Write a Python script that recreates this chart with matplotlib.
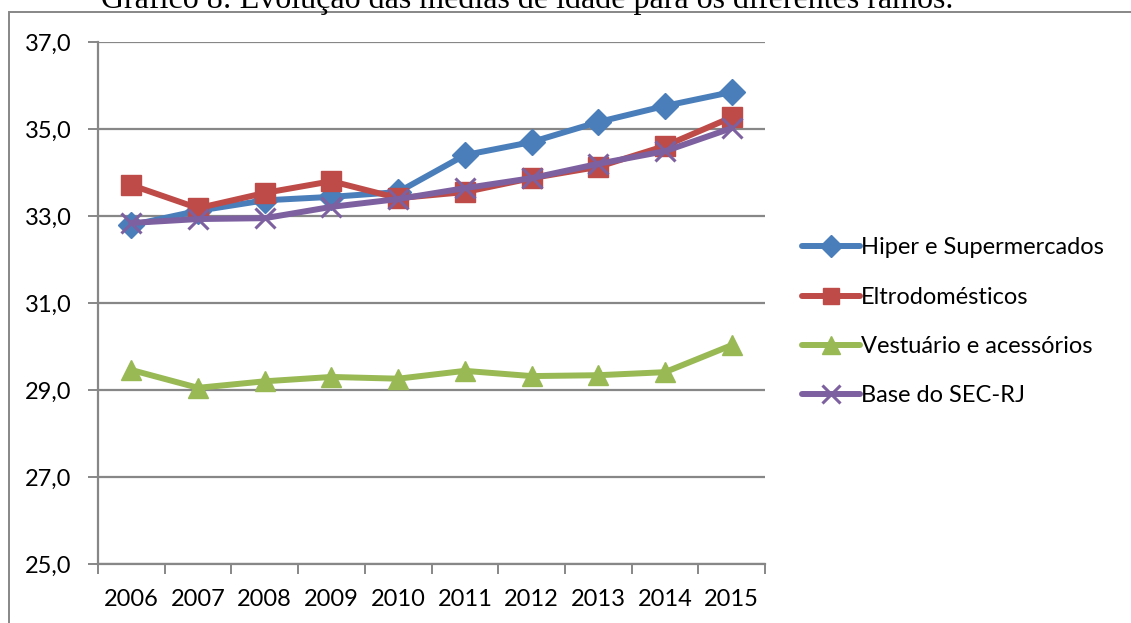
import matplotlib
matplotlib.use('Agg')
import matplotlib.pyplot as plt
from matplotlib.patches import Rectangle

# mean age by retail branch, 2006-2015
years = ['2006', '2007', '2008', '2009', '2010', '2011', '2012', '2013', '2014', '2015']
hiper = [32.79, 33.12, 33.36, 33.44, 33.55, 34.40, 34.70, 35.16, 35.53, 35.85]
eltro = [33.71, 33.18, 33.53, 33.80, 33.41, 33.55, 33.87, 34.13, 34.61, 35.27]
vestuario = [29.46, 29.05, 29.20, 29.30, 29.26, 29.44, 29.32, 29.34, 29.41, 30.03]
base = [32.84, 32.93, 32.95, 33.21, 33.39, 33.64, 33.87, 34.20, 34.49, 35.02]

series = [
    ('Hiper e Supermercados', hiper, '#4a7ebb', 'D', 13),
    ('Eltrodomésticos', eltro, '#be4b48', 's', 14),
    ('Vestuário e acessórios', vestuario, '#98b954', '^', 15),
    ('Base do SEC-RJ', base, '#7d60a0', 'x', 15),
]

plt.rcParams['font.family'] = ['Lato', 'DejaVu Sans']
FS = 17

fig = plt.figure(figsize=(11.31, 6.23), dpi=100)
W, H = 1131, 623
ax = fig.add_axes([98 / W, 1 - 564 / H, (765 - 98) / W, (564 - 42) / H])

x = range(len(years))
for name, vals, col, mk, ms in series:
    kw = dict(markeredgewidth=2.2) if mk == 'x' else dict(markeredgecolor=col)
    ax.plot(x, vals, color=col, lw=4.3, marker=mk, ms=ms, label=name,
            solid_capstyle='round', solid_joinstyle='round', **kw)

ax.set_xlim(-0.5, len(years) - 0.5)
ax.set_ylim(25, 37)
yt = [25, 27, 29, 31, 33, 35, 37]
ax.set_yticks(yt)
ax.set_yticklabels([f'{v:.1f}'.replace('.', ',') for v in yt])
ax.yaxis.grid(True, color='#878787', lw=1.6)
ax.set_axisbelow(True)

# category labels centred, tick marks on category boundaries
ax.set_xticks(list(x))
ax.set_xticklabels(years)
ax.set_xticks([i - 0.5 for i in range(len(years) + 1)], minor=True)
ax.tick_params(axis='x', which='major', length=0, pad=18, labelsize=FS)
ax.tick_params(axis='x', which='minor', length=7, width=1.4, color='#878787')
ax.tick_params(axis='y', length=7, width=1.4, color='#878787', labelsize=FS, pad=12)

for s in ('top', 'right'):
    ax.spines[s].set_visible(False)
for s in ('left', 'bottom'):
    ax.spines[s].set_color('#878787')
    ax.spines[s].set_linewidth(1.6)

ax.legend(loc='center left', bbox_to_anchor=(802 / W, 1 - 322 / H),
          bbox_transform=fig.transFigure, frameon=False, fontsize=FS,
          handlelength=2.45, handletextpad=0.05, labelspacing=1.2,
          borderpad=0, borderaxespad=0, markerscale=0.85)

# outer chart border and caption above it
fig.patches.append(Rectangle((9 / W, -0.05), 1.2, 1.05 - 12.5 / H,
                             transform=fig.transFigure, fill=False,
                             edgecolor='#878787', lw=1.4))
fig.text(527 / W, 1 - 8 / H, 'Gráfico 8: Evolução das médias de idade para os diferentes ramos.',
         family='Liberation Serif', fontsize=23, ha='center', va='baseline')

fig.savefig('out.png', dpi=100)
